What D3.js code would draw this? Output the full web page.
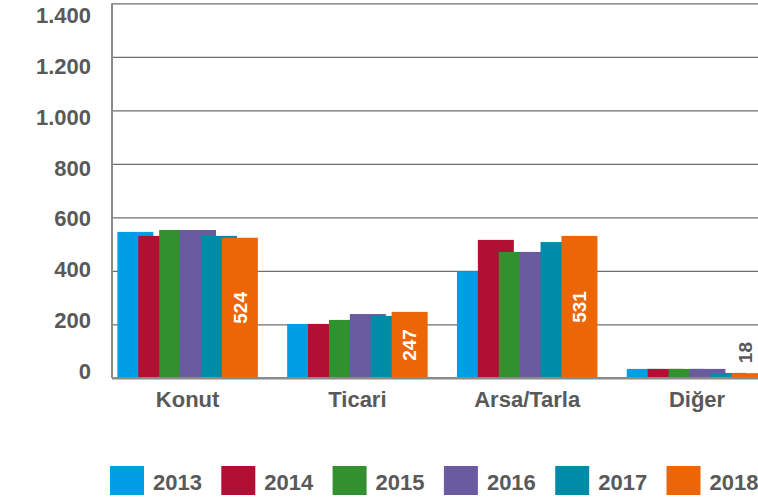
<!DOCTYPE html>
<html>
<head>
<meta charset="utf-8">
<script src="https://cdn.jsdelivr.net/npm/d3@7"></script>
<style>
  body { margin: 0; background: #fff; }
  svg text { font-family: "Liberation Sans", Arial, sans-serif; font-weight: bold; fill: #595959; }
</style>
</head>
<body>
<svg width="758" height="501"></svg>
<script>

const categories = ["Konut", "Ticari", "Arsa/Tarla", "Diğer"];
const years = ["2013", "2014", "2015", "2016", "2017", "2018"];

const v2013 = [546, 202, 397, 34];
const v2014 = [531, 202, 516, 34];
const v2015 = [553, 217, 471, 34];
const v2016 = [553, 239, 471, 34];
const v2017 = [531, 232, 508, 19];
const v2018 = [524, 247, 531, 18];

const yTicks = [0, 200, 400, 600, 800, 1000, 1200, 1400];
const colours = ["#009fe3", "#b10f33", "#33902f", "#6a5aa0", "#008ba8", "#ec6608"];

const series = [v2013, v2014, v2015, v2016, v2017, v2018];

const svg = d3.select('svg');
const width = +svg.attr('width');

const left = 112;
const barW = 36;

const trFormat = d3.formatLocale({ decimal: ',', thousands: '.', grouping: [3], currency: ['', ''] }).format(',');

const x0 = d3.scaleBand()
    .domain(categories)
    .range([102.7, 781.9]);

const x1 = d3.scalePoint()
    .domain(years)
    .range([-52.25, 52.25]);

const y = d3.scaleLinear()
    .domain([0, 1400])
    .range([378, 3.3]);

// tick labels sit on a slightly tighter scale in the original
const yLab = d3.scaleLinear()
    .domain([0, 1400])
    .range([371, 15]);

let barX = (i, k) => x0(categories[i]) + x0.bandwidth() / 2 + x1(years[k]) - barW / 2;
let isInside = (d) => y(0) - y(d) > 40;

// gridlines
let grid = svg.append('g')
    .attr('transform', 'translate(' + left + ',0)')
    .call(d3.axisLeft(y).tickValues(yTicks).tickSize(-(width - left)).tickFormat(''));
grid.select('.domain').remove();
grid.selectAll('line')
    .attr('stroke', (d) => d === 0 ? '#8a8a8a' : '#6e6e6e')
    .attr('stroke-width', (d) => d === 0 ? 2 : 1.3);

// bars, later years drawn on top
series.forEach((s, k) => {
    svg.append('g')
        .selectAll('rect').data(s).enter()
        .append('rect')
        .attr('x', (d, i) => barX(i, k))
        .attr('y', (d) => y(d))
        .attr('width', barW)
        .attr('height', (d) => y(0) - y(d))
        .attr('fill', colours[k]);
});

// redraw baseline over bars
svg.append('line')
    .attr('x1', left).attr('x2', width)
    .attr('y1', y(0)).attr('y2', y(0))
    .attr('stroke', '#8a8a8a')
    .attr('stroke-width', 2);

// left axis line
svg.append('line')
    .attr('x1', left).attr('x2', left)
    .attr('y1', y(1400)).attr('y2', y(0))
    .attr('stroke', '#8a8a8a')
    .attr('stroke-width', 2);

// 2018 value labels
svg.append('g')
    .selectAll('text').data(v2018).enter()
    .append('text')
    .attr('transform', (d, i) => {
        let cx = barX(i, 5) + barW / 2;
        let cy = isInside(d) ? (y(d) + y(0)) / 2 : y(d) - 10;
        if (!isInside(d)) cx -= 4;
        return 'translate(' + cx + ',' + cy + ') rotate(-90)';
    })
    .attr('text-anchor', (d) => isInside(d) ? 'middle' : 'start')
    .attr('dy', '0.35em')
    .style('font-size', '19px')
    .style('fill', (d) => isInside(d) ? '#ffffff' : '#595959')
    .text((d) => d);

// y axis labels
let yAxis = svg.append('g')
    .attr('transform', 'translate(' + left + ',0)')
    .call(d3.axisLeft(yLab).tickValues(yTicks).tickSize(0).tickPadding(21).tickFormat(trFormat));
yAxis.select('.domain').remove();
yAxis.selectAll('text')
    .attr('dy', '0.34em')
    .style('font-size', '22px')
    .style('font-family', null);

// category labels
let xAxis = svg.append('g')
    .attr('transform', 'translate(0,' + y(0) + ')')
    .call(d3.axisBottom(x0).tickSize(0));
xAxis.select('.domain').remove();
xAxis.selectAll('text')
    .attr('y', 29)
    .attr('dy', 0)
    .style('font-size', '22px')
    .style('font-family', null);

// legend
let legend = svg.append('g').attr('id', 'legend');

legend.selectAll('rect').data(years).enter()
    .append('rect')
    .attr('x', (d, i) => 110 + i * 111.3)
    .attr('y', 466)
    .attr('width', 34)
    .attr('height', 29)
    .attr('fill', (d, i) => colours[i]);

legend.selectAll('text').data(years).enter()
    .append('text')
    .attr('x', (d, i) => 153 + i * 111.3)
    .attr('y', 490)
    .style('font-size', '22px')
    .text((d) => d);

</script>
</body>
</html>
